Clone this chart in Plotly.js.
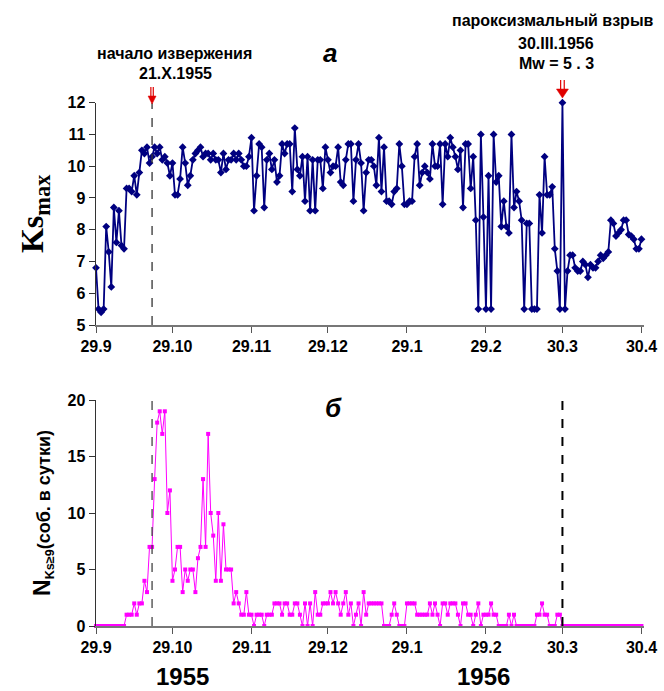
<!DOCTYPE html>
<html><head><meta charset="utf-8">
<script src="https://cdn.plot.ly/plotly-3.0.1.min.js"></script>
<style>html,body{margin:0;padding:0;background:#fff}#chart{width:664px;height:691px}</style>
</head><body><div id="chart"></div>
<script>
// Days counted from 29.9.1955 (day 0)
const tickDays = [0, 30, 61, 91, 122, 153, 183, 214];
const tickLabels = ['29.9', '29.10', '29.11', '29.12', '29.1', '29.2', '30.3', '30.4'];
const eruptionDay = 22;   // 21.X.1955
const paroxysmDay = 183;  // 30.III.1956

// Panel a: daily maximum Ks
const ksMax = [
  6.8, 5.5, 5.4, 5.5, 8.1, 7.3, 6.2, 8.7, 7.6, 8.6,
  7.5, 7.4, 9.3, 9.3, 9.2, 9.7, 9.1, 9.8, 10.5, 10.4,
  10.6, 10.1, 10.3, 10.6, 10.4, 10.6, 10.2, 10.3, 10.1, 9.7,
  10.1, 9.1, 9.1, 9.6, 10.6, 10.1, 9.4, 9.7, 10.2, 10.4,
  10.5, 10.6, 10.3, 10.4, 10.4, 10.2, 10.4, 10.2, 10.2, 9.8,
  10.4, 9.9, 10.2, 10.2, 10.4, 10.2, 10.4, 10.2, 10.0, 10.0,
  10.3, 10.9, 8.6, 9.7, 10.7, 10.6, 8.7, 10.2, 10.4, 9.9,
  10.2,
  9.5, 9.7, 10.7, 10.4, 10.7, 10.7, 9.2, 11.2, 9.9, 9.7,
  10.3, 8.9, 10.3, 8.6, 10.2, 8.6, 10.2, 10.2, 9.3, 10.6,
  10.2, 9.8, 10.0, 10.0, 10.6, 9.5, 9.4, 10.2, 10.7, 10.7,
  8.9, 10.2, 10.7, 10.1, 8.6, 9.8, 10.2, 10.2, 10.0, 9.4,
  10.9, 9.2, 10.6, 8.9, 8.9, 8.8, 9.2, 9.3, 10.7, 10.0,
  8.8, 8.8, 8.9, 8.9, 10.3, 10.7, 9.4, 9.8, 10.0, 9.8,
  9.6, 10.7, 10.0, 10.0, 10.7, 8.8, 10.7, 10.3, 10.9, 10.6,
  10.3, 9.9, 10.5,
  8.7, 10.7, 10.7, 9.3, 10.3, 8.3, 5.5, 11.0, 8.4, 5.5,
  9.7, 5.5, 11.0, 9.5, 9.7, 8.1, 8.9, 8.1, 7.9, 11.0,
  8.7, 9.2, 8.9, 8.3, 5.5, 8.2, 8.2, 5.5, 5.5, 5.5,
  9.1, 7.9, 10.3, 9.1, 9.1, 9.35, 7.4, 6.7, 5.5, 12.0,
  5.5, 6.7, 7.2, 7.2, 6.8, 6.7, 6.7, 7.0, 6.9, 6.5,
  6.9, 6.8, 6.8, 7.0, 7.2, 7.1, 7.2, 7.3, 8.3, 8.2,
  7.8, 7.9, 8.0, 8.3, 8.3, 7.85, 7.8, 7.7, 7.4, 7.4,
  7.7
];

// Panel б: number of events with Ks>=9 per day
const nKs9 = [
  0, 0, 0, 0, 0, 0, 0, 0, 0, 0,
  0, 0, 1, 1, 1, 2, 1, 2, 2, 4,
  3, 7, 7, 13, 18, 19, 17, 19, 10, 12,
  4, 5, 7, 7, 3, 5, 4, 5, 5, 3,
  6, 7, 13, 7, 17, 10, 8, 4, 10, 4,
  9, 5, 5, 5, 2, 3, 2, 1, 1, 3,
  1, 1, 0, 1, 1, 1, 0, 1, 1, 1,
  2, 2, 2, 1, 2, 2, 1, 1, 2, 2,
  1, 0, 2, 0, 2, 0, 3, 1, 1, 2,
  2, 2, 3, 2, 3, 2, 1, 2, 3, 1,
  2, 0, 1, 2, 0, 3, 1, 2, 2, 2,
  2, 2, 2, 0, 0, 0, 1, 2, 1, 0,
  0, 0, 2, 2, 2, 2, 1, 1, 1, 1,
  1, 2, 1, 2, 1, 0, 2, 2, 1, 2,
  2, 2, 1, 0, 2, 2, 1, 1, 0, 1,
  2, 0, 1, 1, 1, 2, 1, 1, 0, 0,
  0, 0, 1, 0, 1, 0, 0, 0, 0, 0,
  0, 0, 0, 1, 1, 2, 1, 1, 0, 0,
  0, 1, 1, 0, 0, 0, 0, 0, 0, 0,
  0, 0, 0, 0, 0, 0, 0, 0, 0, 0,
  0, 0, 0, 0, 0, 0, 0, 0, 0, 0,
  0, 0, 0, 0, 0
];

const dayIndexA = ksMax.map((_, i) => i);
const dayIndexB = nKs9.map((_, i) => i);

const W = 664, H = 691, L = 96, R = 20;
const pxX = x => (x - L) / (W - L - R);
const pxY = y => 1 - y / H;
const dayPx = 215 / (W - L - R); // days per pixel

const SANS = 'Liberation Sans, Arial, sans-serif';
const tickFont = {family: SANS, size: 16, color: '#000', weight: 'bold'};

const xCommon = {
  range: [0, 215], tickmode: 'array', tickvals: tickDays, ticktext: tickLabels,
  ticks: 'outside', ticklen: 6, tickcolor: '#555', tickwidth: 1,
  showline: true, linecolor: '#777', linewidth: 1.5,
  showgrid: false, zeroline: false, tickfont: tickFont, fixedrange: true
};

// red double-shaft arrow pointing down, tip at (day, tipY px)
function arrowShapes(day, topY, tipY, halfW, headH, gap, col) {
  const dx = d => day + d * dayPx;
  const headTop = tipY - headH;
  return [
    {type: 'path', xref: 'x', yref: 'paper', line: {color: col, width: 1.2},
     path: `M ${dx(-gap)},${pxY(topY)} L ${dx(-gap)},${pxY(headTop + 1)} M ${dx(gap)},${pxY(topY)} L ${dx(gap)},${pxY(headTop + 1)}`},
    {type: 'path', xref: 'x', yref: 'paper', fillcolor: col, line: {color: col, width: 0.5},
     path: `M ${dx(-halfW)},${pxY(headTop)} L ${dx(halfW)},${pxY(headTop)} L ${dx(0)},${pxY(tipY)} Z`}
  ];
}

const data = [
  {x: dayIndexA, y: ksMax, xaxis: 'x', yaxis: 'y', type: 'scatter', mode: 'lines+markers',
   line: {color: '#000080', width: 1.8}, marker: {symbol: 'diamond', size: 6, color: '#000080'},
   cliponaxis: false, hoverinfo: 'x+y'},
  {x: dayIndexB, y: nKs9, xaxis: 'x2', yaxis: 'y2', type: 'scatter', mode: 'lines+markers',
   line: {color: '#ff00ff', width: 1}, marker: {symbol: 'square', size: 4, color: '#ff00ff'},
   cliponaxis: false, hoverinfo: 'x+y'}
];

const labelFont = {family: SANS, size: 16, color: '#000', weight: 'bold'};
function label(x, y, text, font) {
  return {xref: 'paper', yref: 'paper', x: pxX(x), y: pxY(y), xanchor: 'center', yanchor: 'middle',
          text: text, showarrow: false, font: font || labelFont};
}

const layout = {
  width: W, height: H,
  margin: {l: L, r: R, t: 0, b: 0},
  paper_bgcolor: '#fff', plot_bgcolor: '#fff',
  showlegend: false,
  xaxis: Object.assign({}, xCommon, {domain: [0, 1], anchor: 'y'}),
  yaxis: {
    domain: [pxY(325), pxY(102.7)], anchor: 'x', range: [5, 12], dtick: 1, tick0: 5,
    ticks: 'outside', ticklen: 6, tickcolor: '#333', showline: true, linecolor: '#333', linewidth: 1.5,
    showgrid: false, zeroline: false, tickfont: tickFont, fixedrange: true,
    title: {text: 'Ks<sub>max</sub>', font: {family: 'Liberation Serif, Times New Roman, serif', size: 32, color: '#000', weight: 'bold'}, standoff: 14}
  },
  xaxis2: Object.assign({}, xCommon, {domain: [0, 1], anchor: 'y2'}),
  yaxis2: {
    domain: [pxY(626), pxY(400)], anchor: 'x2', range: [0, 20], dtick: 5, tick0: 0,
    ticks: 'outside', ticklen: 6, tickcolor: '#333', showline: true, linecolor: '#333', linewidth: 1.5,
    showgrid: false, zeroline: false, tickfont: tickFont, fixedrange: true,
    title: {text: '<span style="font-size:23px">N</span><sub>Ks≥9</sub>(соб. в сутки)', font: {family: SANS, size: 18, color: '#000', weight: 'bold'}, standoff: 12}
  },
  shapes: [
    {type: 'line', xref: 'x', yref: 'y', x0: eruptionDay, x1: eruptionDay, y0: 5, y1: 12,
     line: {color: '#333', width: 1.3, dash: 'dash'}},
    {type: 'line', xref: 'x2', yref: 'y2', x0: eruptionDay, x1: eruptionDay, y0: 0, y1: 20.4,
     line: {color: '#444', width: 1.3, dash: 'dash'}},
    {type: 'line', xref: 'x2', yref: 'y2', x0: paroxysmDay, x1: paroxysmDay, y0: 0, y1: 20.9,
     line: {color: '#000', width: 2, dash: 'dash'}}
  ].concat(arrowShapes(eruptionDay, 87, 104, 4, 8, 1.2, '#e00000'))
   .concat(arrowShapes(paroxysmDay, 80, 98, 6, 9, 1.8, '#e00000')),
  annotations: [
    label(330, 53, 'а', {family: SANS, size: 26, color: '#000', weight: 'bold', style: 'italic'}),
    label(333, 408, 'б', {family: SANS, size: 26, color: '#000', weight: 'bold', style: 'italic'}),
    label(174, 54, 'начало извержения'),
    label(175, 74, '21.X.1955'),
    label(553, 20, 'пароксизмальный взрыв'),
    label(556, 43, '30.III.1956'),
    label(556, 63, 'Mw = 5 . 3'),
    label(182, 676, '1955', {family: SANS, size: 24, color: '#000', weight: 'bold'}),
    label(483, 676, '1956', {family: SANS, size: 24, color: '#000', weight: 'bold'})
  ]
};

Plotly.newPlot('chart', data, layout, {displayModeBar: false, staticPlot: true});
</script>
</body></html>
